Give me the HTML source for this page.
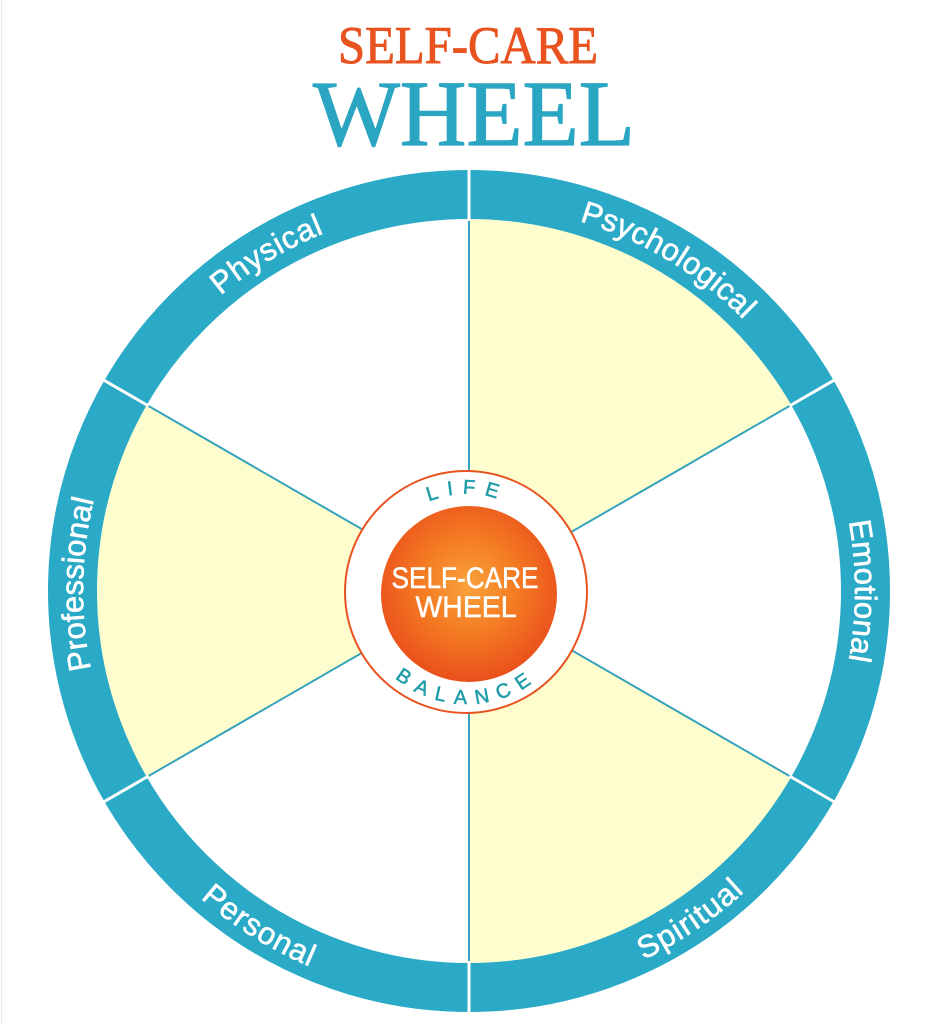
<!DOCTYPE html>
<html>
<head>
<meta charset="utf-8">
<style>
  html,body{margin:0;padding:0;background:#ffffff;}
  body{width:945px;height:1024px;overflow:hidden;}
  svg{display:block;}
</style>
</head>
<body>
<svg width="945" height="1024" viewBox="0 0 945 1024" xmlns="http://www.w3.org/2000/svg">
  <defs>
    <radialGradient id="og" cx="50%" cy="45%" r="55%">
      <stop offset="0%" stop-color="#F9A23C"/>
      <stop offset="50%" stop-color="#F47B22"/>
      <stop offset="100%" stop-color="#EA501C"/>
    </radialGradient>
    <path id="pPhys" d="M169.0,348.1 A386,386 0 0 1 395.4,212.1"/>
    <path id="pPsy" d="M542.7,212.1 A386,386 0 0 1 769.0,348.1"/>
    <path id="pEmo" d="M826.9,446.4 A386,386 0 0 1 826.9,735.6"/>
    <path id="pProf" d="M108.6,729.3 A386,386 0 0 1 113.7,440.2"/>
    <path id="pSpir" d="M553.8,990.1 A408,408 0 0 0 807.2,819.2"/>
    <path id="pPers" d="M138.9,830.8 A408,408 0 0 0 398.2,992.8"/>
    <path id="pLife" d="M404,516.9 A98,98 0 0 1 530,516.9"/>
    <path id="pBal" d="M370,648 A112,112 0 0 0 564,648"/>
  </defs>

  <rect x="0" y="0" width="945" height="1024" fill="#ffffff"/>
  <line x1="1.5" y1="0" x2="1.5" y2="1024" stroke="#f3e6e9" stroke-width="1"/>

  <!-- Title -->
  <text x="468" y="63" text-anchor="middle" font-family="'Liberation Serif', serif" font-size="53" fill="#E8531F" stroke="#E8531F" stroke-width="0.9" textLength="260" lengthAdjust="spacingAndGlyphs">SELF-CARE</text>
  <text x="474" y="145" text-anchor="middle" font-family="'Liberation Serif', serif" font-size="93" fill="#2AA6C2" stroke="#2AA6C2" stroke-width="1.2" textLength="322" lengthAdjust="spacingAndGlyphs">WHEEL</text>

  <!-- Inner disc -->
  <circle cx="469" cy="591" r="373" fill="#ffffff"/>
  <path d="M469,591 L469,219 A372,372 0 0 1 791.2,405 Z" fill="#FEFDCD"/>
  <path d="M469,591 L791.2,777 A372,372 0 0 1 469,963 Z" fill="#FEFDCD"/>
  <path d="M469,591 L146.8,777 A372,372 0 0 1 146.8,405 Z" fill="#FEFDCD"/>

  <!-- radial teal lines -->
  <g stroke="#35A3BB" stroke-width="2">
    <line x1="469" y1="591" x2="469" y2="219"/>
    <line x1="469" y1="591" x2="791.2" y2="405"/>
    <line x1="469" y1="591" x2="791.2" y2="777"/>
    <line x1="469" y1="591" x2="469" y2="963"/>
    <line x1="469" y1="591" x2="146.8" y2="777"/>
    <line x1="469" y1="591" x2="146.8" y2="405"/>
  </g>

  <!-- Outer ring -->
  <circle cx="469" cy="591" r="396.5" fill="none" stroke="#2AAAC6" stroke-width="49"/>
  <g stroke="#ffffff" stroke-width="3">
    <line x1="469" y1="167" x2="469" y2="221"/>
    <line x1="835.3" y1="379.5" x2="789.4" y2="406"/>
    <line x1="835.3" y1="802.5" x2="789.4" y2="776"/>
    <line x1="469" y1="1015" x2="469" y2="961"/>
    <line x1="102.7" y1="802.5" x2="148.6" y2="776"/>
    <line x1="102.7" y1="379.5" x2="148.6" y2="406"/>
  </g>

  <!-- Ring labels -->
  <g font-family="'Liberation Sans', sans-serif" font-size="31" fill="#ffffff" stroke="#ffffff" stroke-width="0.6">
    <text letter-spacing="0.8"><textPath href="#pPhys" startOffset="50%" text-anchor="middle">Physical</textPath></text>
    <text letter-spacing="0.3"><textPath href="#pPsy" startOffset="50%" text-anchor="middle">Psychological</textPath></text>
    <text letter-spacing="0.2"><textPath href="#pEmo" startOffset="50%" text-anchor="middle">Emotional</textPath></text>
    <text letter-spacing="0"><textPath href="#pProf" startOffset="50%" text-anchor="middle">Professional</textPath></text>
    <text letter-spacing="1.2"><textPath href="#pSpir" startOffset="50%" text-anchor="middle">Spiritual</textPath></text>
    <text letter-spacing="1.0"><textPath href="#pPers" startOffset="50%" text-anchor="middle">Personal</textPath></text>
  </g>

  <!-- Center -->
  <circle cx="466" cy="592" r="121" fill="#ffffff" stroke="#E8531F" stroke-width="2"/>
  <circle cx="469" cy="594" r="88" fill="url(#og)"/>
  <g font-family="'Liberation Sans', sans-serif" font-size="20" fill="#1E9CA8" stroke="#1E9CA8" stroke-width="0.5">
    <text letter-spacing="9"><textPath href="#pLife" startOffset="50%" text-anchor="middle">LIFE</textPath></text>
    <text letter-spacing="9"><textPath href="#pBal" startOffset="50%" text-anchor="middle">BALANCE</textPath></text>
  </g>
  <g font-family="'Liberation Sans', sans-serif" font-size="30" fill="#ffffff" stroke="#ffffff" stroke-width="0.5">
    <text x="465" y="588" text-anchor="middle" textLength="147" lengthAdjust="spacingAndGlyphs">SELF-CARE</text>
    <text x="466" y="617" text-anchor="middle" textLength="101" lengthAdjust="spacingAndGlyphs">WHEEL</text>
  </g>
</svg>
</body>
</html>
